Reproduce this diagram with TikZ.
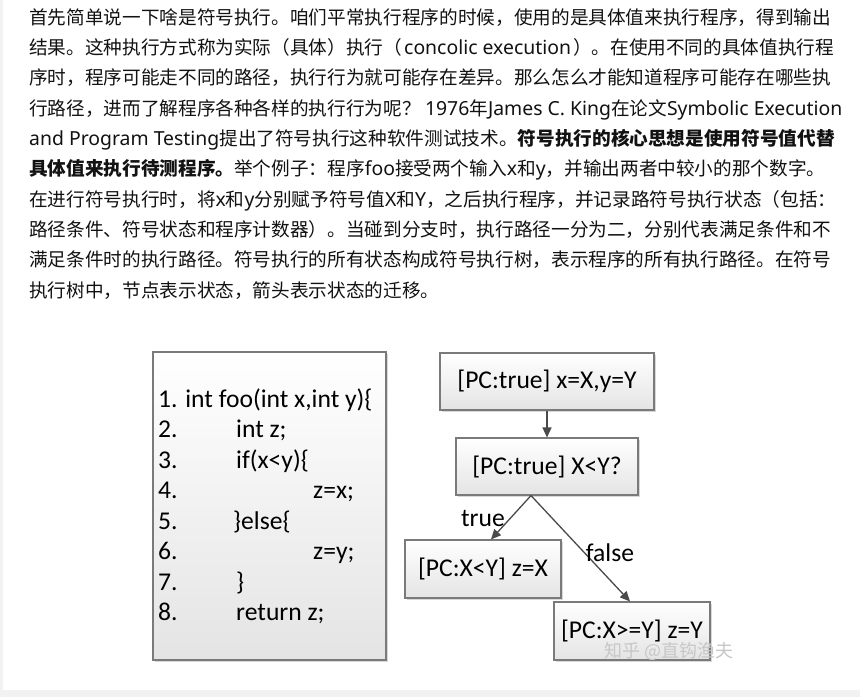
\documentclass[tikz,border=0pt]{standalone}
\usepackage{fontspec}
\setmainfont{Noto Sans CJK SC}
\newfontfamily\latfam{Noto Sans}
\newcommand{\latf}{\latfam\fontsize{19.4}{21}\selectfont}
\newfontfamily\calib{Carlito}
\usetikzlibrary{shadows,arrows.meta}
\definecolor{txt}{HTML}{121212}
\definecolor{boxline}{HTML}{7A7A7A}
\definecolor{boxfill}{HTML}{E4E4E4}
\definecolor{arrowc}{HTML}{4A4A4A}
\definecolor{edge}{HTML}{F2F2F2}
\begin{document}
\begin{tikzpicture}[x=1pt,y=-1pt,
  para/.style={anchor=base west, inner sep=0pt, text=txt, font=\fontsize{18.65}{20}\selectfont},
  shadebox/.style={draw=boxline, line width=1.1pt, top color=white, bottom color=boxfill,
    drop shadow={shadow xshift=2pt,shadow yshift=-2pt,opacity=0.3}},
  codetxt/.style={anchor=base west, inner sep=0pt, text=black, font=\calib\fontsize{25.6}{27}\selectfont},
  state/.style={shadebox, inner sep=0pt, text=black, font=\calib\fontsize{25.6}{27}\selectfont},
  edgelbl/.style={inner sep=0pt, text=black, font=\calib\fontsize{25.6}{27}\selectfont},
  arr/.style={draw=arrowc, line width=1.3pt, -{Triangle[length=10pt,width=9pt]}}
]
\useasboundingbox (0,0) rectangle (860,697);
\fill[white] (0,0) rectangle (860,697);
\fill[edge] (0,0) rectangle (3,697);
\fill[edge] (0,690) rectangle (860,697);

% paragraph
\node[para] (l1) at (29,24) {首先简单说一下啥是符号执行。咱们平常执行程序的时候，使用的是具体值来执行程序，得到输出};
\node[para] (l2) at (29,54.3) {结果。这种执行方式称为实际（具体）执行（\hspace{2pt}{\latf concolic execution}\hspace{2pt}）。在使用不同的具体值执行程};
\node[para] (l3) at (29,84.6) {序时，程序可能走不同的路径，执行行为就可能存在差异。那么怎么才能知道程序可能存在哪些执};
\node[para] (l4) at (29,115) {行路径，进而了解程序各种各样的执行行为呢？ {\latf 1976}年{\latf James C. King}在论文{\latf Symbolic Execution}};
\node[para] (l5) at (29,145.3) {{\latf and Program Testing}提出了符号执行这种软件测试技术。\textbf{符号执行的核心思想是使用符号值代替}};
\node[para] (l6) at (29,175.6) {\textbf{具体值来执行待测程序。}举个例子：程序{\latf foo}接受两个输入{\latf x}和{\latf y}，并输出两者中较小的那个数字。};
\node[para] (l7) at (29,206) {在进行符号执行时，将{\latf x}和{\latf y}分别赋予符号值{\latf X}和{\latf Y}，之后执行程序，并记录路符号执行状态（包括：};
\node[para] (l8) at (29,236.3) {路径条件、符号状态和程序计数器）。当碰到分支时，执行路径一分为二，分别代表满足条件和不};
\node[para] (l9) at (29,266.6) {满足条件时的执行路径。符号执行的所有状态构成符号执行树，表示程序的所有执行路径。在符号};
\node[para] (l10) at (29,297) {执行树中，节点表示状态，箭头表示状态的迁移。};

% code box
\node[shadebox, minimum width=233pt, minimum height=308pt, inner sep=0pt] (code) at (269.5,506) {};
\node[codetxt] (n1) at (158,407) {1. int foo(int x,int y)\{};
\node[codetxt] (n2) at (158,437.5) {2.};
\node[codetxt] (t2) at (236,437.5) {int z;};
\node[codetxt] (n3) at (158,468) {3.};
\node[codetxt] (t3) at (236,468) {if(x<y)\{};
\node[codetxt] (n4) at (158,498.5) {4.};
\node[codetxt] (t4) at (313,498.5) {z=x;};
\node[codetxt] (n5) at (158,529) {5.};
\node[codetxt] (t5) at (233,529) {\}else\{};
\node[codetxt] (n6) at (158,559.5) {6.};
\node[codetxt] (t6) at (313,559.5) {z=y;};
\node[codetxt] (n7) at (158,590) {7.};
\node[codetxt] (t7) at (236,590) {\}};
\node[codetxt] (n8) at (158,620.5) {8.};
\node[codetxt] (t8) at (236,620.5) {return z;};

% tree
\node[state, minimum width=214pt, minimum height=57pt] (s1) at (547,381.5) {[PC:true] x=X,y=Y};
\node[state, minimum width=182pt, minimum height=57pt] (s2) at (547,466.5) {[PC:true] X<Y?};
\node[state, minimum width=156pt, minimum height=58pt] (s3) at (483,569) {[PC:X<Y] z=X};
\node[state, minimum width=156pt, minimum height=58pt] (s4) at (632,631) {[PC:X>=Y] z=Y};

\draw[arr] (s1.south) -- (s2.north);
\draw[arr] ([xshift=-16pt]s2.south) -- ([xshift=8pt]s3.north);
\draw[arr] ([xshift=-16pt]s2.south) -- ([xshift=-2pt]s4.north);
\node[edgelbl] (ltrue) at (483,518) {true};
\node[edgelbl] (lfalse) at (610,553) {false};

% watermark
\node[inner sep=0pt, text=black!22, font=\fontsize{18}{20}\selectfont] (wm) at (669,651) {知乎 @直钩渔夫};
\end{tikzpicture}
\end{document}
